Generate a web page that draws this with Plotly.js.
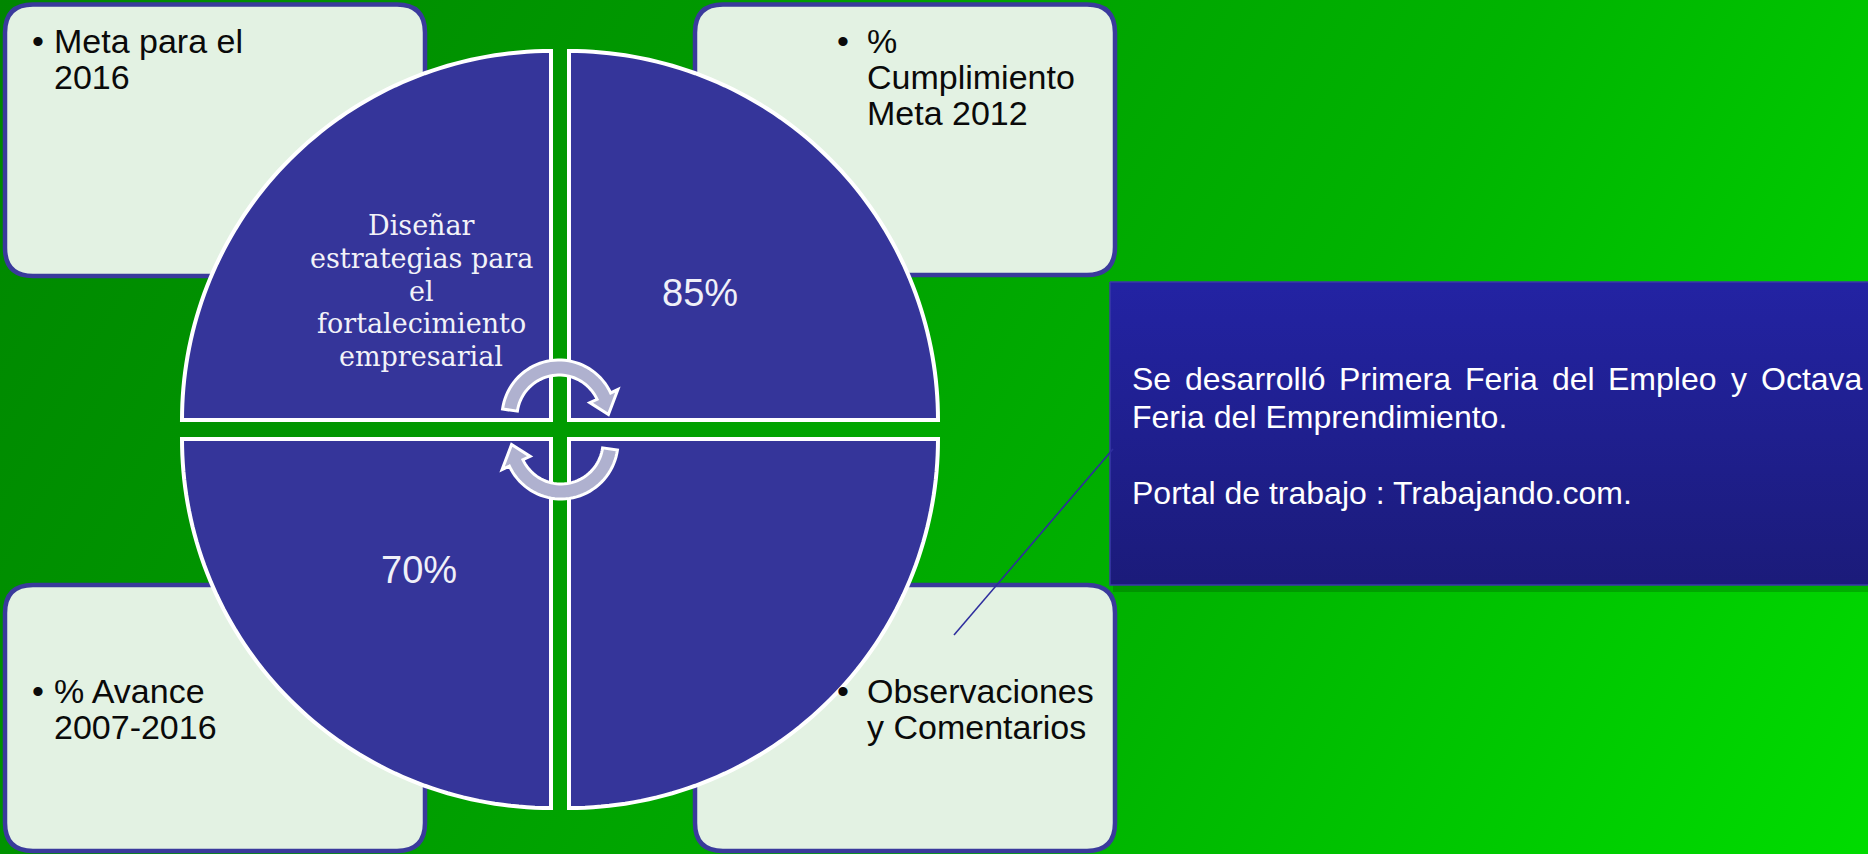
<!DOCTYPE html>
<html><head><meta charset="utf-8">
<script src="https://cdn.plot.ly/plotly-3.0.1.min.js"></script>
<style>
html,body{margin:0;padding:0;overflow:hidden;}
body{width:1868px;height:854px;background:linear-gradient(120deg,#008600 0%,#009c00 35%,#00b400 65%,#00dc00 100%);}
#chart{width:1868px;height:854px;}
</style></head><body><div id="chart"></div>
<script>
// ---- content ----
const goalLines = ['Diseñar', 'estrategias para', 'el', 'fortalecimiento', 'empresarial'];
const boxTitles = [
  ['Meta para el', '2016'],
  ['%', 'Cumplimiento', 'Meta 2012'],
  ['% Avance', '2007-2016'],
  ['Observaciones', 'y Comentarios']
];
const quadrantValues = ['', '85%', '70%', ''];
const calloutLines = ['Se desarrolló Primera Feria del Empleo y Octava', 'Feria del Emprendimiento.', '', 'Portal de trabajo : Trabajando.com.'];
const calloutJustified = [true, false, false, false];

// ---- helpers ----
const W = 1868, H = 854;
const SANS = 'Liberation Sans, Arial, sans-serif';
const SERIF = 'DejaVu Serif, Georgia, serif';
const ctx = document.createElement('canvas').getContext('2d');
function textWidth(t, size){ ctx.font = size + 'px "Liberation Sans", Arial, sans-serif'; return ctx.measureText(t).width; }

function roundRect(x0,y0,x1,y1,r){
  return `M${x0+r},${y0} L${x1-r},${y0} Q${x1},${y0} ${x1},${y0+r} L${x1},${y1-r} Q${x1},${y1} ${x1-r},${y1} L${x0+r},${y1} Q${x0},${y1} ${x0},${y1-r} L${x0},${y0+r} Q${x0},${y0} ${x0+r},${y0} Z`;
}
function pt(cx,cy,r,a){const t=a*Math.PI/180;return (cx+r*Math.cos(t)).toFixed(2)+','+(cy-r*Math.sin(t)).toFixed(2);}
function quadrant(cx,cy,r,a0,a1){
  let p = `M${cx},${cy}`;
  for(let i=0;i<=72;i++){ p += ' L' + pt(cx,cy,r,a0+(a1-a0)*i/72); }
  return p + ' Z';
}
function arrow(cx,cy,rIn,rOut,aS,aE,ext,delta){
  const n=40, sg=Math.sign(aE-aS), rm=(rIn+rOut)/2;
  let p='';
  for(let i=0;i<=n;i++){ p += (i?' L':'M') + pt(cx,cy,rOut,aS+(aE-aS)*i/n); }
  p += ' L'+pt(cx,cy,rOut+ext,aE);
  p += ' L'+pt(cx,cy,rm,aE+sg*delta);
  p += ' L'+pt(cx,cy,rIn-ext,aE);
  for(let i=0;i<=n;i++){ p += ' L' + pt(cx,cy,rIn,aE+(aS-aE)*i/n); }
  return p+' Z';
}
function lineAnn(text,x,yBase,size,family,color,anchor){
  return {text:text, x:x, y:yBase-0.346*size, xref:'x', yref:'y', showarrow:false,
          xanchor:anchor, yanchor:'middle', font:{size:size, family:family, color:color}};
}

// ---- layout geometry ----
const boxes = [[5,4.5,425,276],[695,4.5,1115,275],[5,585,425,851],[695,585,1115,851]];
const boxTextPos = [ {bx:38, tx:52, y0:53}, {bx:843, tx:865, y0:53},
                     {bx:38, tx:52, y0:703}, {bx:843, tx:865, y0:703} ];
const boxFont = 34, lineGap = 35.8;
const qCorners = [[551,420,90,180],[569,420,0,90],[551,439,180,270],[569,439,270,360]];
const R = 369;

const shapes = [];
boxes.forEach(b=>{
  shapes.push({type:'path', layer:'below', xref:'x', yref:'y', path:roundRect(b[0],b[1],b[2],b[3],28),
    fillcolor:'#e3f2e3', line:{color:'#3a3a9c', width:4.5}});
});
// callout shadow
shapes.push({type:'rect', layer:'below', xref:'x', yref:'y', x0:1113, x1:1870, y0:585, y1:592,
  fillcolor:'rgba(0,40,0,0.22)', line:{width:0}});
qCorners.forEach(q=>{
  shapes.push({type:'path', layer:'above', xref:'x', yref:'y', path:quadrant(q[0],q[1],R,q[2],q[3]),
    fillcolor:'#35359a', line:{color:'#ffffff', width:4}});
});
shapes.push({type:'path', layer:'above', xref:'x', yref:'y', path:arrow(559,417,42,57,172,25,8,22),
  fillcolor:'#afb1cf', line:{color:'#ffffff', width:3}});
shapes.push({type:'path', layer:'above', xref:'x', yref:'y', path:arrow(561,442,42,57,-8,-155,8,22),
  fillcolor:'#afb1cf', line:{color:'#ffffff', width:3}});
shapes.push({type:'line', layer:'above', xref:'x', yref:'y', x0:1113, y0:449, x1:954, y1:635,
  line:{color:'#2e2e9e', width:1.6}});

const annotations = [];
boxTitles.forEach((lines,i)=>{
  const p = boxTextPos[i];
  annotations.push(lineAnn('•', p.bx, p.y0, boxFont, SANS, '#0a0a0a', 'center'));
  lines.forEach((t,j)=>annotations.push(lineAnn(t, p.tx, p.y0 + j*lineGap, boxFont, SANS, '#0a0a0a', 'left')));
});
goalLines.forEach((t,j)=>annotations.push(lineAnn(t, 421, 235 + j*32.7, 27, SERIF, '#f2f2f8', 'center')));
const valuePos = [null, [700, 306], [419, 583], null];
quadrantValues.forEach((v,i)=>{ if(v) annotations.push(lineAnn(v, valuePos[i][0], valuePos[i][1], 38, SANS, '#f0f0f8', 'center')); });

const cSize = 32, cX0 = 1130, cX1 = 1860;
const cBase = [390, 428, 466, 504];
calloutLines.forEach((t,j)=>{
  if(!t) return;
  if(calloutJustified[j]){
    const words = t.split(' ');
    const ws = words.map(w=>textWidth(w,cSize));
    const gap = (cX1 - cX0 - ws.reduce((a,b)=>a+b,0)) / (words.length-1);
    let x = cX0;
    words.forEach((w,k)=>{ annotations.push(lineAnn(w, x, cBase[j], cSize, SANS, '#ffffff', 'left')); x += ws[k] + gap; });
  } else {
    annotations.push(lineAnn(t, cX0, cBase[j], cSize, SANS, '#ffffff', 'left'));
  }
});

const traces = [{
  type:'scatter', mode:'lines', x:[1110,1870,1870,1110,1110], y:[282,282,585,585,282],
  fill:'toself', fillgradient:{type:'vertical', colorscale:[[0,'#1b1b7a'],[1,'#2323a3']]},
  line:{color:'#3a3aa8', width:1.5}, hoverinfo:'skip', showlegend:false
}];

const layout = {
  width:W, height:H, margin:{l:0,r:0,t:0,b:0,pad:0},
  paper_bgcolor:'rgba(0,0,0,0)', plot_bgcolor:'rgba(0,0,0,0)',
  xaxis:{range:[0,W], visible:false, fixedrange:true},
  yaxis:{range:[H,0], visible:false, fixedrange:true},
  shapes:shapes, annotations:annotations, showlegend:false
};
Plotly.newPlot('chart', traces, layout, {staticPlot:true, displayModeBar:false});
</script>
</body></html>
